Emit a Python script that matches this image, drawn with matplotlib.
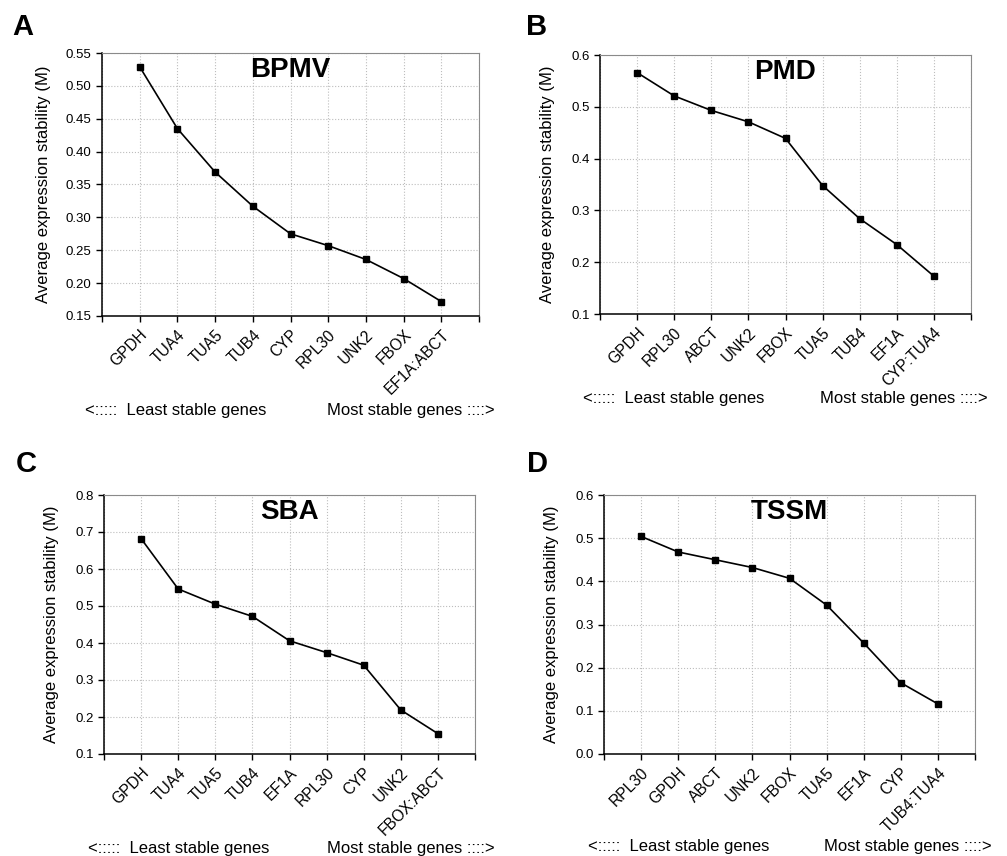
import numpy as np
import matplotlib.pyplot as plt

plt.rcParams['font.family'] = ['Liberation Sans', 'DejaVu Sans']

# DATA
genes_a = ["GPDH", "TUA4", "TUA5", "TUB4", "CYP", "RPL30", "UNK2", "FBOX", "EF1A:ABCT"]
m_a = [0.529, 0.435, 0.369, 0.317, 0.275, 0.257, 0.236, 0.207, 0.172]

genes_b = ["GPDH", "RPL30", "ABCT", "UNK2", "FBOX", "TUA5", "TUB4", "EF1A", "CYP:TUA4"]
m_b = [0.566, 0.521, 0.493, 0.471, 0.439, 0.348, 0.284, 0.234, 0.173]

genes_c = ["GPDH", "TUA4", "TUA5", "TUB4", "EF1A", "RPL30", "CYP", "UNK2", "FBOX:ABCT"]
m_c = [0.682, 0.546, 0.505, 0.472, 0.406, 0.374, 0.340, 0.219, 0.155]

genes_d = ["RPL30", "GPDH", "ABCT", "UNK2", "FBOX", "TUA5", "EF1A", "CYP", "TUB4:TUA4"]
m_d = [0.504, 0.468, 0.450, 0.432, 0.407, 0.345, 0.257, 0.165, 0.116]

W, H = 1007, 856
fig = plt.figure(figsize=(W / 100, H / 100), dpi=100)


def px_axes(left, top, right, bottom):
    # pixel box -> figure fraction
    return fig.add_axes([left / W, 1 - bottom / H, (right - left) / W, (bottom - top) / H])


def plot_panel(ax, genes, vals, name, ylim, step, fmt, ylab_x):
    x = np.arange(1, len(genes) + 1)
    ax.plot(x, vals, color='black', lw=1.2, marker='s', ms=4.8, mfc='black', mec='black')
    ax.set_xlim(0, 10)
    ax.set_ylim(*ylim)
    ax.set_yticks(np.arange(ylim[0], ylim[1] + step / 2, step))
    ax.yaxis.set_major_formatter(plt.FormatStrFormatter(fmt))
    ax.set_xticks(np.arange(0, 11))
    ax.set_xticklabels([""] + genes + [""], rotation=45, ha='right',
                       rotation_mode='anchor')
    ax.tick_params(axis='both', direction='out', length=4, width=1, labelsize=9.5)
    ax.tick_params(axis='x', pad=4, labelsize=11.2)
    ax.grid(True, linestyle=':', color='#bdbdbd', lw=0.8)
    ax.set_axisbelow(True)
    ax.set_ylabel("Average expression stability (M)", fontsize=12)
    ax.yaxis.set_label_coords(ylab_x, 0.5)
    for s in ['top', 'right']:
        ax.spines[s].set_color('#8a8a8a')
    for s in ['left', 'bottom']:
        ax.spines[s].set_linewidth(1.1)
    ax.text(0.5, 0.985, name, transform=ax.transAxes, ha='center', va='top',
            fontsize=20, fontweight='bold')


ax_a = px_axes(102, 53, 479, 316)
plot_panel(ax_a, genes_a, m_a, "BPMV", (0.15, 0.55), 0.05, '%.2f', -0.135)

ax_b = px_axes(600, 55, 971, 314)
plot_panel(ax_b, genes_b, m_b, "PMD", (0.1, 0.6), 0.1, '%.1f', -0.121)

ax_c = px_axes(104, 495, 475, 754)
plot_panel(ax_c, genes_c, m_c, "SBA", (0.1, 0.8), 0.1, '%.1f', -0.121)

ax_d = px_axes(604, 495, 975, 754)
plot_panel(ax_d, genes_d, m_d, "TSSM", (0.0, 0.6), 0.1, '%.1f', -0.121)

# panel letters
for lab, xp, yp in [("A", 12, 13), ("B", 526, 13), ("C", 16, 450), ("D", 527, 450)]:
    fig.text(xp / W, 1 - yp / H, lab, fontsize=21, fontweight='bold', va='top', ha='left')

# bottom annotations
for l, r, yc in [(85, 495, 410), (583, 988, 398), (88, 495, 849), (588, 992, 847)]:
    fig.text(l / W, 1 - yc / H, "<:::::  Least stable genes", fontsize=12, ha='left', va='center')
    fig.text(r / W, 1 - yc / H, "Most stable genes ::::>", fontsize=12, ha='right', va='center')

plt.savefig("out.png", dpi=100)
